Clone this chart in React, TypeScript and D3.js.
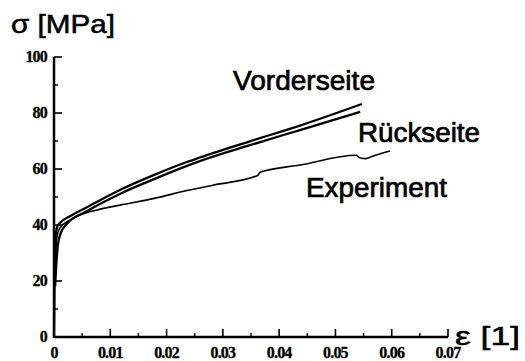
import React from "react";
import * as d3 from "d3";

const W = 525;
const H = 361;

const xTicksMajor = [0, 0.01, 0.02, 0.03, 0.04, 0.05, 0.06, 0.07];
const xTickLabels = ["0", "0.01", "0.02", "0.03", "0.04", "0.05", "0.06", "0.07"];
const xTicksMinor = [0.005, 0.015, 0.025, 0.035, 0.045, 0.055, 0.065];
const yTicksMajor = [0, 20, 40, 60, 80, 100];
const yTickLabels = ["0", "20", "40", "60", "80", "100"];
const yTicksMinor = [10, 30, 50, 70, 90];

// [strain, stress MPa]
const vorderseite: [number, number][] = [
  [0, 0], [0.0001, 20], [0.0003, 36], [0.0006, 39.5], [0.001, 40.6],
  [0.003, 43.3], [0.0059, 46.4], [0.0117, 52.5], [0.0178, 57.9],
  [0.0236, 62.5], [0.0259, 64.1], [0.0348, 69.9], [0.0437, 75.5], [0.0547, 83.2],
];
const rueckseite: [number, number][] = [
  [0.0002, 18], [0.0004, 25.7], [0.0007, 32.9], [0.0012, 37.1], [0.0021, 40.0],
  [0.0059, 45.0], [0.0117, 51.1], [0.0178, 56.4], [0.0259, 62.8],
  [0.0348, 68.5], [0.0437, 73.9], [0.0544, 80.4],
];
const experiment: [number, number][] = [
  [0.0001, 22], [0.0003, 30], [0.0005, 35.5], [0.001, 38.8], [0.003, 42.0],
  [0.0055, 44.2], [0.0075, 45.3], [0.0117, 47.1], [0.0178, 49.5], [0.0236, 52.3],
  [0.0284, 54.3], [0.0362, 57.7], [0.0366, 58.8], [0.0437, 61.4],
  [0.0537, 64.9], [0.0544, 63.9], [0.0554, 63.7], [0.0565, 64.5], [0.0597, 66.4],
];

const labels = [
  { text: "Vorderseite", x: 233, y: 90, len: 142 },
  { text: "Rückseite", x: 358, y: 141.5, len: 122 },
  { text: "Experiment", x: 306, y: 196.5, len: 141 },
];

export default function App() {
  const x = d3.scaleLinear().domain([0, 0.07]).range([54, 448]);
  const y = d3.scaleLinear().domain([0, 100]).range([337, 57]);
  const line = d3
    .line<[number, number]>()
    .x((d) => x(d[0]))
    .y((d) => y(d[1]))
    .curve(d3.curveMonotoneX);

  const tickFont = {
    fontFamily: "'Liberation Serif', serif",
    fontWeight: 700,
    fontSize: 16,
    letterSpacing: -0.8,
    stroke: "#000",
    strokeWidth: 0.3,
  } as const;

  return (
    <svg
      width={W}
      height={H}
      style={{ position: "absolute", left: 0, top: 0, background: "#fff" }}
    >
      {/* axes */}
      <line x1={x(0)} x2={x(0.07)} y1={y(0)} y2={y(0)} stroke="#000" strokeWidth={2.5} />
      <line x1={x(0)} x2={x(0)} y1={y(0) + 1} y2={y(100)} stroke="#000" strokeWidth={2.5} />
      {xTicksMajor.map((t, i) => (
        <g key={"xt" + i}>
          {t > 0 && (
            <line x1={x(t)} x2={x(t)} y1={y(0)} y2={y(0) - 8} stroke="#000" strokeWidth={1.6} />
          )}
          <text x={x(t)} y={358} textAnchor="middle" {...tickFont}>
            {xTickLabels[i]}
          </text>
        </g>
      ))}
      {xTicksMinor.map((t, i) => (
        <line key={"xm" + i} x1={x(t)} x2={x(t)} y1={y(0)} y2={y(0) - 4} stroke="#000" strokeWidth={1.4} />
      ))}
      {yTicksMajor.map((t, i) => (
        <g key={"yt" + i}>
          {t > 0 && (
            <line x1={x(0)} x2={x(0) + 8} y1={y(t)} y2={y(t)} stroke="#000" strokeWidth={1.6} />
          )}
          <text x={47} y={y(t) + 5} textAnchor="end" {...tickFont}>
            {yTickLabels[i]}
          </text>
        </g>
      ))}
      {yTicksMinor.map((t, i) => (
        <line key={"ym" + i} x1={x(0)} x2={x(0) + 4} y1={y(t)} y2={y(t)} stroke="#000" strokeWidth={1.4} />
      ))}

      {/* curves */}
      <path d={line(vorderseite) || ""} fill="none" stroke="#000" strokeWidth={2.3} />
      <path d={line(rueckseite) || ""} fill="none" stroke="#000" strokeWidth={2.3} />
      <path d={line(experiment) || ""} fill="none" stroke="#000" strokeWidth={1.6} />

      {/* axis titles */}
      <text
        x={11}
        y={33}
        fontFamily="'Liberation Sans', Arial, sans-serif"
        fontSize={25}
        stroke="#000"
        strokeWidth={0.5}
        textLength={104}
        lengthAdjust="spacingAndGlyphs"
      >
        σ [MPa]
      </text>
      <text
        x={455}
        y={345}
        fontFamily="'Liberation Sans', Arial, sans-serif"
        fontSize={26}
        stroke="#000"
        strokeWidth={0.5}
        textLength={65}
        lengthAdjust="spacingAndGlyphs"
      >
        ε [1]
      </text>

      {labels.map((l) => (
        <text
          key={l.text}
          x={l.x}
          y={l.y}
          fontFamily="'Liberation Sans', Arial, sans-serif"
          fontSize={27}
          stroke="#000"
          strokeWidth={0.7}
          textLength={l.len}
          lengthAdjust="spacingAndGlyphs"
        >
          {l.text}
        </text>
      ))}
    </svg>
  );
}
